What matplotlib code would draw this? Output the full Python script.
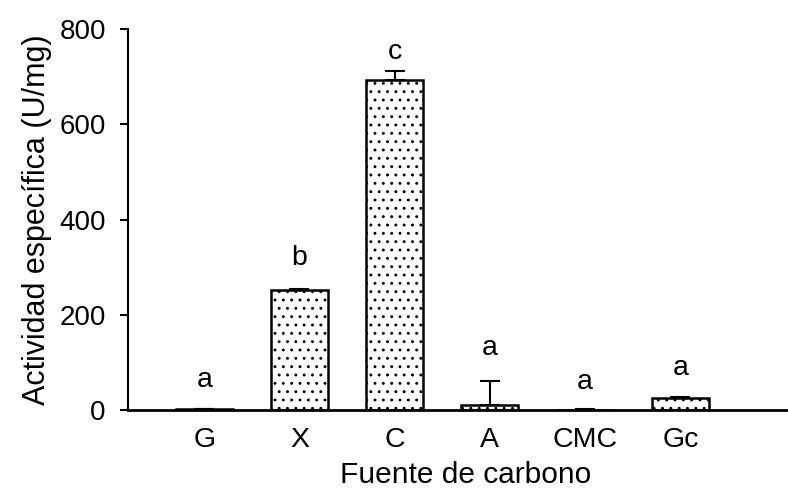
import matplotlib
matplotlib.use("Agg")
import matplotlib.pyplot as plt

categories = ["G", "X", "C", "A", "CMC", "Gc"]
values = [2, 253, 692, 10, 1, 25]
errors = [1, 2, 19, 50, 1, 2]
letters = ["a", "b", "c", "a", "a", "a"]
letter_y = [63, 319, 752, 130, 59, 88]

plt.rcParams['font.family'] = ['Liberation Sans', 'DejaVu Sans']
plt.rcParams['hatch.linewidth'] = 0.9

fig = plt.figure(figsize=(7.88, 4.96), dpi=100)
ax = fig.add_axes([128/788, 1 - 410/496, (788 - 128)/788, (410 - 29)/496])

x = list(range(len(categories)))
ax.bar(x, values, width=0.6, color="white", edgecolor="black", linewidth=1.8,
       hatch="..", zorder=2)
ax.errorbar(x, values, yerr=[[0]*len(errors), errors], fmt="none", ecolor="black",
            elinewidth=1.5, capsize=7, capthick=1.5, zorder=3)
for xi, t, yy in zip(x, letters, letter_y):
    ax.text(xi, yy, t, ha="center", va="center", fontsize=20.5)

ax.set_xlim(-0.8, 6.13)
ax.set_ylim(0, 800)
ax.set_yticks([0, 200, 400, 600, 800])
ax.set_xticks(x)
ax.set_xticklabels(categories)
ax.tick_params(axis="x", length=0, pad=12, labelsize=20.5)
ax.tick_params(axis="y", length=6, width=1.5, direction="out", labelsize=20, pad=10)
ax.spines["top"].set_visible(False)
ax.spines["right"].set_visible(False)
ax.spines["left"].set_linewidth(1.5)
ax.spines["bottom"].set_linewidth(2)
ax.set_xlabel("Fuente de carbono", fontsize=21.5)
ax.xaxis.set_label_coords(0.511, -0.135)
ax.set_ylabel("Actividad específica (U/mg)", fontsize=22, labelpad=5)

fig.savefig("out.png", dpi=100)
